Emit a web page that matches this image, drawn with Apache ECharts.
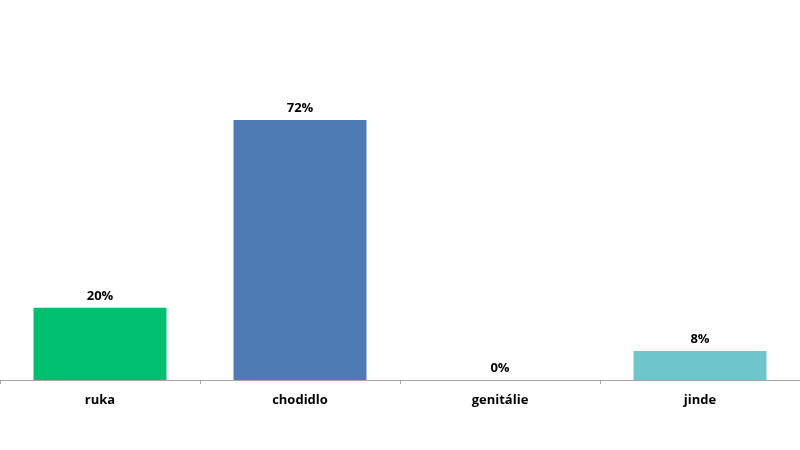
<!DOCTYPE html>
<html>
<head>
<meta charset="utf-8">
<script src="https://cdn.jsdelivr.net/npm/echarts@6/dist/echarts.min.js"></script>
<style>html,body{margin:0;padding:0;background:#fff;}#c{width:800px;height:450px;}</style>
</head>
<body>
<div id="c"></div>
<script>
const categories = ['ruka', 'chodidlo', 'genitálie', 'jinde'];
const values = [20, 72, 0, 8];
const colors = ['#00BF6F', '#4F7BB5', '#4F7BB5', '#6EC5CC'];

const chart = echarts.init(document.getElementById('c'));
chart.setOption({
  animation: false,
  grid: { left: 0, right: 0, top: 19, bottom: 70 },
  xAxis: {
    type: 'category',
    data: categories,
    axisLine: { lineStyle: { color: '#A6A6A6', width: 1 } },
    axisTick: { show: true, length: 4, lineStyle: { color: '#A6A6A6' } },
    axisLabel: { color: '#000', fontWeight: 'bold', fontSize: 13, fontFamily: 'Open Sans', margin: 14 }
  },
  yAxis: {
    type: 'value', min: 0, max: 100,
    show: false, splitLine: { show: false }
  },
  series: [{
    type: 'bar',
    data: values.map((v, i) => ({ value: v, itemStyle: { color: colors[i] } })),
    barWidth: 133,
    label: {
      show: true, position: 'top', distance: 5,
      formatter: p => p.value + '%',
      color: '#000', fontWeight: 'bold', fontSize: 13, fontFamily: 'Open Sans'
    }
  }]
});
</script>
</body>
</html>
